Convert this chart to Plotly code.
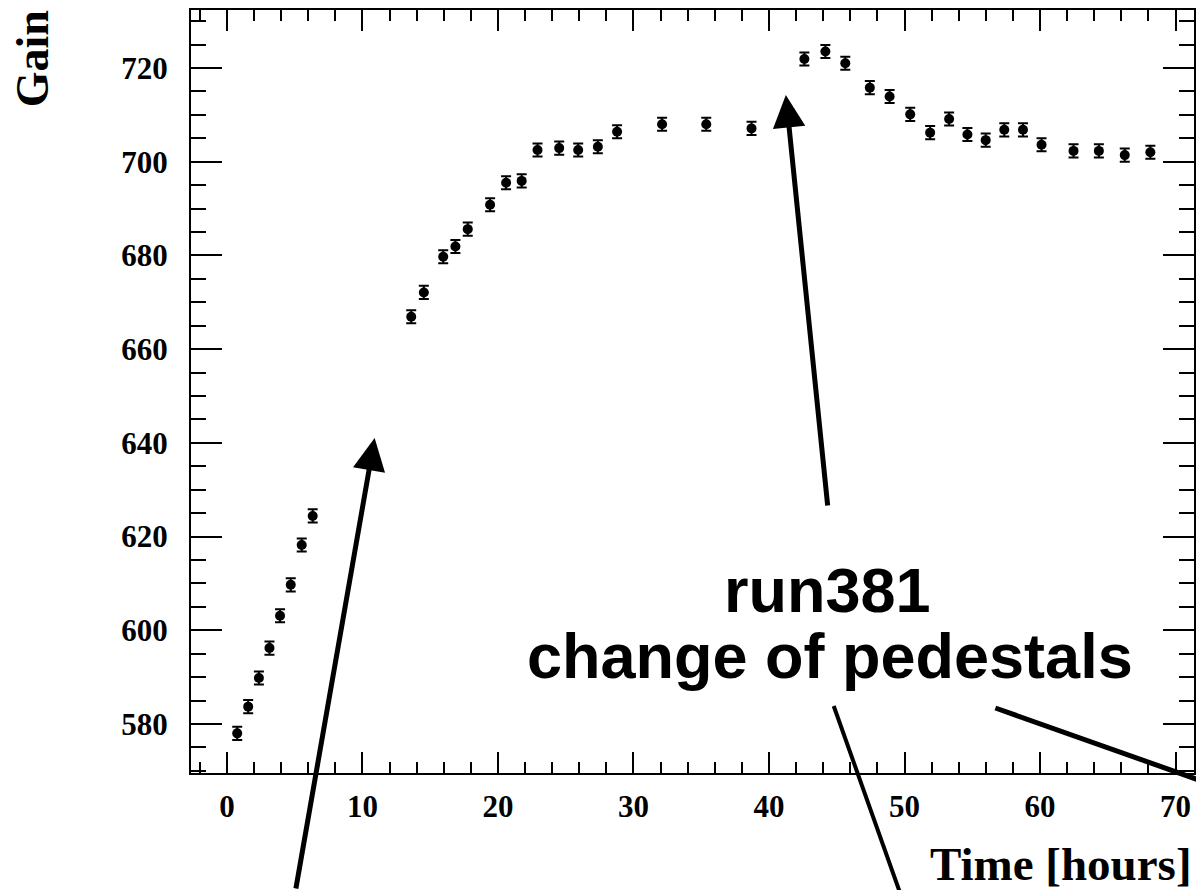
import plotly.graph_objects as go

# ---- data ----
time_h = [0.76, 1.57, 2.36, 3.14, 3.92, 4.71, 5.52, 6.33,
          13.60, 14.53, 15.96, 16.86, 17.77, 19.42, 20.60, 21.75,
          22.92, 24.52, 25.92, 27.37, 28.79, 32.11, 35.37, 38.71,
          42.61, 44.16, 45.63, 47.44, 48.90, 50.42, 51.89, 53.29,
          54.64, 55.99, 57.36, 58.74, 60.11, 62.47, 64.34, 66.25, 68.14]
gain = [578.0, 583.7, 589.8, 596.2, 603.1, 609.7, 618.2, 624.4,
        666.9, 672.1, 679.7, 681.9, 685.6, 690.8, 695.5, 695.9,
        702.5, 702.9, 702.5, 703.2, 706.4, 708.0, 708.0, 707.1,
        721.9, 723.5, 721.0, 715.8, 713.9, 710.1, 706.2, 709.1,
        705.8, 704.6, 706.8, 706.8, 703.6, 702.3, 702.3, 701.4, 702.0]
gain_err = [1.4, 1.4, 1.4, 1.4, 1.4, 1.4, 1.4, 1.4,
            1.4, 1.4, 1.4, 1.4, 1.4, 1.4, 1.4, 1.4,
            1.4, 1.4, 1.4, 1.4, 1.4, 1.4, 1.4, 1.4,
            1.4, 1.4, 1.4, 1.4, 1.4, 1.4, 1.4, 1.4,
            1.4, 1.4, 1.4, 1.4, 1.4, 1.4, 1.4, 1.4, 1.4]

x_title = "Time [hours]"
y_title = "Gain"
note_line1 = "run381"
note_line2 = "change of pedestals"

W, H = 1196, 890
ML, MR, MT, MB = 191, 0, 10, 117
PW = W - ML - MR
PH = H - MT - MB


def px(xp):
    """page pixel x -> paper coordinate"""
    return (xp - ML) / PW


def py(yp):
    """page pixel y -> paper coordinate"""
    return (H - MB - yp) / PH


fig = go.Figure()
fig.add_trace(go.Scatter(
    x=time_h, y=gain, mode="markers",
    marker=dict(color="black", size=10, symbol="circle"),
    error_y=dict(type="data", array=gain_err, color="black", thickness=2, width=5),
    showlegend=False,
))

serif_bold = dict(family="Liberation Serif", size=31, color="black", weight="bold")

fig.update_xaxes(
    range=[-2.65, 71.36], showgrid=False, zeroline=False,
    showline=True, linecolor="black", linewidth=2, mirror="allticks",
    ticks="inside", ticklen=21, tickwidth=2, tickcolor="black",
    tick0=0, dtick=10, tickfont=serif_bold, ticklabelstandoff=5,
    minor=dict(ticks="inside", ticklen=11, tickwidth=2, tickcolor="black", dtick=2, tick0=0, showgrid=False),
)
fig.update_yaxes(
    range=[569.54, 732.37], showgrid=False, zeroline=False,
    showline=True, linecolor="black", linewidth=2, mirror="allticks",
    ticks="inside", ticklen=31, tickwidth=2, tickcolor="black",
    tick0=0, dtick=20, tickfont=serif_bold, ticklabelstandoff=15,
    minor=dict(ticks="inside", ticklen=15, tickwidth=2, tickcolor="black", dtick=5, tick0=0, showgrid=False),
)

annotations = []
# axis titles (ROOT style, right/top aligned)
annotations.append(dict(
    text=x_title, xref="paper", yref="paper", x=px(1196), y=py(864), xanchor="right", yanchor="middle",
    showarrow=False, font=dict(family="Liberation Serif", size=47, color="black", weight="bold")))
annotations.append(dict(
    text=y_title, xref="paper", yref="paper", x=px(33), y=py(59), xanchor="center", yanchor="middle",
    textangle=-90, showarrow=False,
    font=dict(family="Liberation Serif", size=46, color="black", weight="bold")))
# note text
note_font = dict(family="Liberation Sans", size=63, color="black", weight="bold")
annotations.append(dict(text=note_line1, xref="paper", yref="paper", x=px(829), y=py(590),
                        xanchor="center", yanchor="middle", showarrow=False, font=note_font))
annotations.append(dict(text=note_line2, xref="paper", yref="paper", x=px(831), y=py(656),
                        xanchor="center", yanchor="middle", showarrow=False, font=note_font))
# arrows
for tip, tail in [((375, 438), (296, 910)), ((787, 95), (829, 507))]:
    annotations.append(dict(
        text="", xref="paper", yref="paper", x=px(tip[0]), y=py(tip[1]),
        ax=tail[0] - tip[0], ay=tail[1] - tip[1], showarrow=True,
        arrowhead=2, arrowsize=1.3, arrowwidth=5, arrowcolor="black", standoff=0))

shapes = [
    dict(type="line", xref="paper", yref="paper", x0=px(835), y0=py(706), x1=px(904), y1=py(900),
         line=dict(color="black", width=4), layer="above"),
    dict(type="line", xref="paper", yref="paper", x0=px(997), y0=py(708), x1=px(1215), y1=py(785),
         line=dict(color="black", width=5), layer="above"),
]

fig.update_layout(
    width=W, height=H, margin=dict(l=ML, r=MR, t=MT, b=MB),
    paper_bgcolor="white", plot_bgcolor="white",
    annotations=annotations, shapes=shapes, showlegend=False,
)

fig.write_html(
    "out.html",
    config={"displayModeBar": False, "staticPlot": True},
    post_script="document.documentElement.style.overflow='hidden';"
                "document.body.style.margin='0px';document.body.style.overflow='hidden';",
)
